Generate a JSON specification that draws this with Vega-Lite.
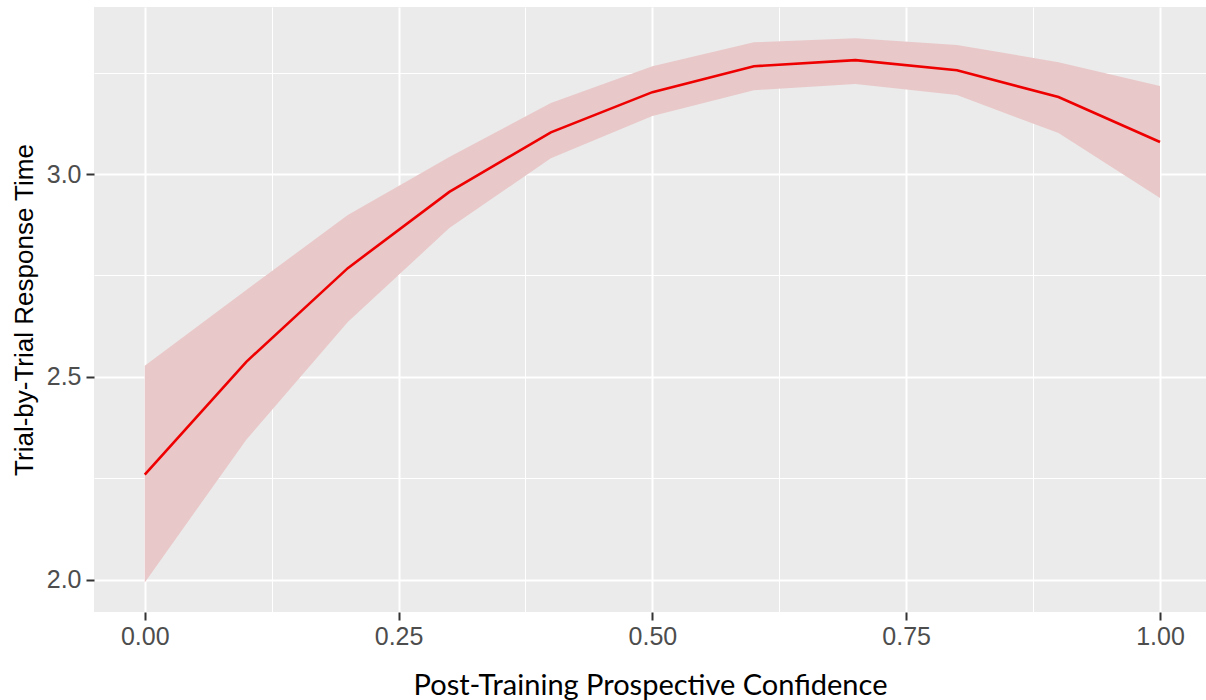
{
  "$schema": "https://vega.github.io/schema/vega-lite/v6.json",
  "autosize": {"type": "none"},
  "width": 1112,
  "height": 605,
  "padding": {"left": 94, "top": 7, "right": 0, "bottom": 88},
  "background": "white",
  "config": {
    "view": {"fill": "#ebebeb", "stroke": null},
    "axis": {
      "domain": false,
      "gridColor": "white",
      "tickColor": "#333333",
      "tickWidth": 2,
      "tickSize": 8,
      "labelColor": "#4d4d4d",
      "labelFont": "Liberation Sans",
      "labelFontSize": 25,
      "titleFontWeight": "normal",
      "titleColor": "#000000"
    }
  },
  "data": {
    "values": [
      {"conf": 0.0, "rt": 2.259, "lo": 1.993, "hi": 2.527},
      {"conf": 0.1, "rt": 2.537, "lo": 2.345, "hi": 2.714},
      {"conf": 0.2, "rt": 2.768, "lo": 2.635, "hi": 2.899},
      {"conf": 0.3, "rt": 2.956, "lo": 2.867, "hi": 3.042},
      {"conf": 0.4, "rt": 3.103, "lo": 3.039, "hi": 3.175},
      {"conf": 0.5, "rt": 3.202, "lo": 3.143, "hi": 3.266},
      {"conf": 0.6, "rt": 3.266, "lo": 3.207, "hi": 3.325},
      {"conf": 0.7, "rt": 3.281, "lo": 3.222, "hi": 3.335},
      {"conf": 0.8, "rt": 3.256, "lo": 3.195, "hi": 3.318},
      {"conf": 0.9, "rt": 3.19, "lo": 3.101, "hi": 3.276},
      {"conf": 1.0, "rt": 3.079, "lo": 2.941, "hi": 3.217}
    ]
  },
  "encoding": {
    "x": {
      "field": "conf",
      "type": "quantitative",
      "scale": {"domain": [-0.05, 1.0453], "nice": false, "zero": false},
      "axis": {
        "title": "Post-Training Prospective Confidence",
        "titleFont": "Lato",
        "titleFontSize": 29,
        "titlePadding": 22,
        "values": [0, 0.125, 0.25, 0.375, 0.5, 0.625, 0.75, 0.875, 1.0],
        "labelExpr": "(datum.value * 4) % 1 == 0 ? format(datum.value, '.2f') : ''",
        "labelPadding": 4,
        "gridWidth": {"condition": {"test": "(datum.value * 4) % 1 == 0", "value": 2}, "value": 1},
        "tickOpacity": {"condition": {"test": "(datum.value * 4) % 1 == 0", "value": 1}, "value": 0}
      }
    }
  },
  "layer": [
    {
      "mark": {"type": "area", "color": "#e9c8c9", "opacity": 1},
      "encoding": {
        "y": {
          "field": "lo",
          "type": "quantitative",
          "scale": {"domain": [1.92, 3.412], "nice": false, "zero": false},
          "axis": {
            "title": "Trial-by-Trial Response Time",
            "titleFont": "Liberation Sans",
            "titleFontSize": 26,
            "titlePadding": 9,
            "values": [2.0, 2.25, 2.5, 2.75, 3.0, 3.25],
            "labelExpr": "(datum.value * 2) % 1 == 0 ? format(datum.value, '.1f') : ''",
            "labelPadding": 5,
            "gridWidth": {"condition": {"test": "(datum.value * 2) % 1 == 0", "value": 2}, "value": 1},
            "tickOpacity": {"condition": {"test": "(datum.value * 2) % 1 == 0", "value": 1}, "value": 0}
          }
        },
        "y2": {"field": "hi"}
      }
    },
    {
      "mark": {"type": "line", "color": "#ee0000", "strokeWidth": 2.6},
      "encoding": {
        "y": {"field": "rt", "type": "quantitative"}
      }
    }
  ]
}
